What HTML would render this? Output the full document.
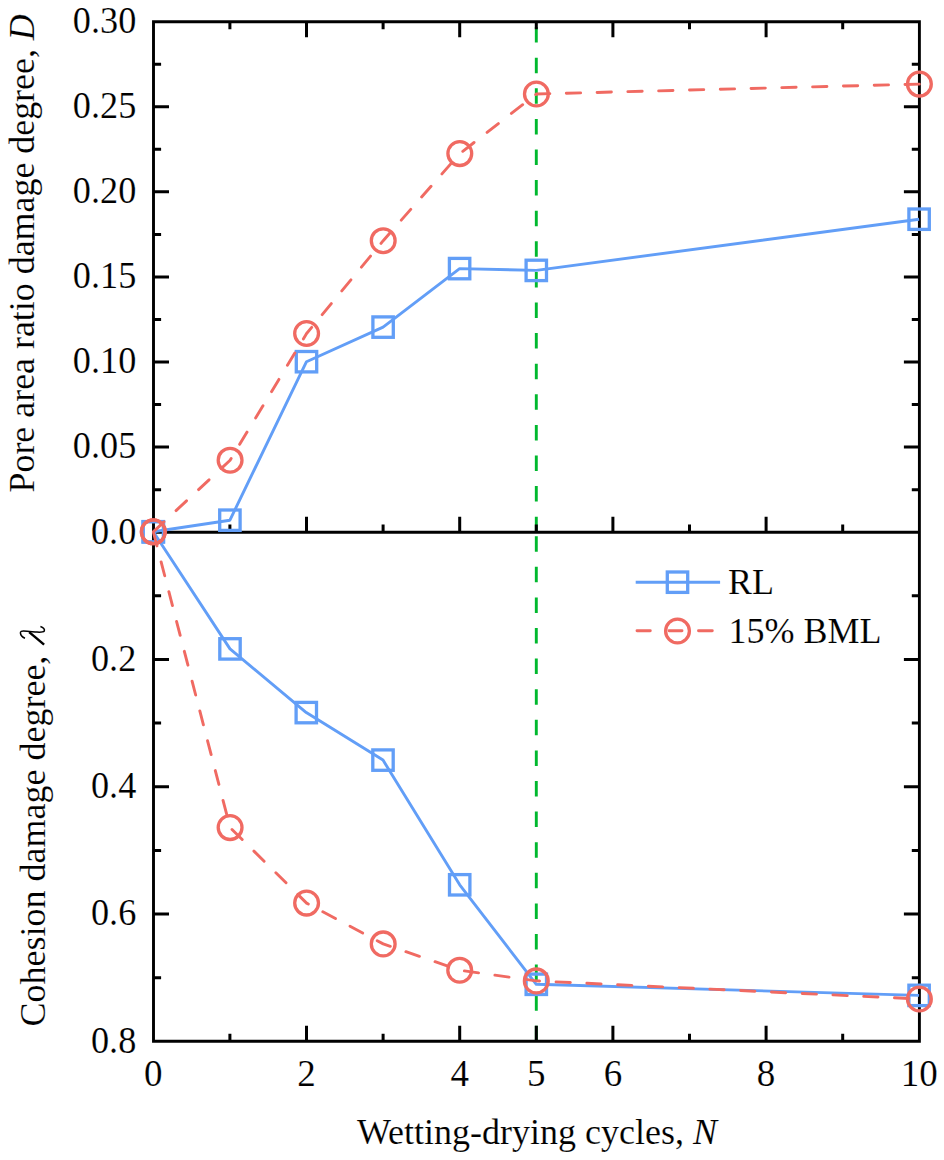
<!DOCTYPE html>
<html><head><meta charset="utf-8"><style>
html,body{margin:0;padding:0;background:#fff;width:944px;height:1160px;overflow:hidden;font-family:"Liberation Serif",serif}
svg{display:block}
</style></head><body>
<svg width="944" height="1160" viewBox="0 0 944 1160">
<rect width="944" height="1160" fill="#fff"/>
<g stroke="#00B82E" stroke-width="2.9" fill="none" stroke-dasharray="15.5 15.1">
<path d="M536.3,532.2V21.7"/>
<path d="M536.3,1041.3V532.2"/>
</g>
<path d="M153.50,489.66h7.6M919.40,489.66h-7.6M153.50,447.12h15.5M919.40,447.12h-15.5M153.50,404.58h7.6M919.40,404.58h-7.6M153.50,362.03h15.5M919.40,362.03h-15.5M153.50,319.49h7.6M919.40,319.49h-7.6M153.50,276.95h15.5M919.40,276.95h-15.5M153.50,234.41h7.6M919.40,234.41h-7.6M153.50,191.87h15.5M919.40,191.87h-15.5M153.50,149.32h7.6M919.40,149.32h-7.6M153.50,106.78h15.5M919.40,106.78h-15.5M153.50,64.24h7.6M919.40,64.24h-7.6M229.90,21.70v7.6M229.90,532.20v-7.6M306.50,21.70v15.5M306.50,532.20v-15.5M383.10,21.70v7.6M383.10,532.20v-7.6M459.70,21.70v15.5M459.70,532.20v-15.5M536.30,21.70v7.6M536.30,532.20v-7.6M612.90,21.70v15.5M612.90,532.20v-15.5M689.50,21.70v7.6M689.50,532.20v-7.6M766.10,21.70v15.5M766.10,532.20v-15.5M842.70,21.70v7.6M842.70,532.20v-7.6M153.50,595.84h7.6M919.40,595.84h-7.6M153.50,659.48h15.5M919.40,659.48h-15.5M153.50,723.11h7.6M919.40,723.11h-7.6M153.50,786.75h15.5M919.40,786.75h-15.5M153.50,850.39h7.6M919.40,850.39h-7.6M153.50,914.02h15.5M919.40,914.02h-15.5M153.50,977.66h7.6M919.40,977.66h-7.6M229.90,1041.30v-7.6M306.50,1041.30v-15.5M383.10,1041.30v-7.6M459.70,1041.30v-15.5M536.30,1041.30v-15.5M612.90,1041.30v-15.5M689.50,1041.30v-7.6M766.10,1041.30v-15.5M842.70,1041.30v-7.6" stroke="#000" stroke-width="3.0" fill="none"/>
<path d="M153.5,21.7H919.4V1041.3H153.5Z M153.5,532.2H919.4" stroke="#000" stroke-width="2.9" fill="none" stroke-linejoin="miter" stroke-linecap="square"/>
<path d="M153.3,531.8 L229.9,520.2 L306.5,361.7 L383.1,327.1 L459.6,268.6 L536.3,270.4 L919.1,219.2" stroke="#629EF7" stroke-width="2.9" fill="none" stroke-linejoin="round"/>
<g stroke="#629EF7" stroke-width="3.3" fill="none"><rect x="143.10" y="521.60" width="20.4" height="20.4"/><rect x="219.70" y="510.00" width="20.4" height="20.4"/><rect x="296.30" y="351.50" width="20.4" height="20.4"/><rect x="372.90" y="316.90" width="20.4" height="20.4"/><rect x="449.40" y="258.40" width="20.4" height="20.4"/><rect x="526.10" y="260.20" width="20.4" height="20.4"/><rect x="908.90" y="209.00" width="20.4" height="20.4"/></g>
<path d="M153.3,531.8 L230.0,648.9 L306.3,712.6 L383.0,760.1 L459.7,884.8 L536.3,984.3 L919.1,995.4" stroke="#629EF7" stroke-width="2.9" fill="none" stroke-linejoin="round"/>
<g stroke="#629EF7" stroke-width="3.3" fill="none"><rect x="143.10" y="521.60" width="20.4" height="20.4"/><rect x="219.80" y="638.70" width="20.4" height="20.4"/><rect x="296.10" y="702.40" width="20.4" height="20.4"/><rect x="372.80" y="749.90" width="20.4" height="20.4"/><rect x="449.50" y="874.60" width="20.4" height="20.4"/><rect x="526.10" y="974.10" width="20.4" height="20.4"/><rect x="908.90" y="985.20" width="20.4" height="20.4"/></g>
<path d="M153.3,531.8 L230.1,460.2 L306.6,333.5 L383.2,240.7 L459.8,153.6 L536.4,94.0 L919.4,84.1" stroke="#F06A62" stroke-width="2.9" fill="none" stroke-dasharray="14.3 16.5" stroke-dashoffset="-0.3" stroke-linecap="round" stroke-linejoin="round"/>
<g stroke="#F06A62" stroke-width="3.3" fill="none"><circle cx="153.30" cy="531.80" r="11.9"/><circle cx="230.10" cy="460.20" r="11.9"/><circle cx="306.60" cy="333.50" r="11.9"/><circle cx="383.20" cy="240.70" r="11.9"/><circle cx="459.80" cy="153.60" r="11.9"/><circle cx="536.40" cy="94.00" r="11.9"/><circle cx="919.40" cy="84.10" r="11.9"/></g>
<path d="M153.3,531.8 L230.1,827.6 L306.6,903.1 L383.2,943.9 L459.7,970.2 L536.3,980.9 L919.4,999.0" stroke="#F06A62" stroke-width="2.9" fill="none" stroke-dasharray="14.3 16.5" stroke-dashoffset="-0.3" stroke-linecap="round" stroke-linejoin="round"/>
<g stroke="#F06A62" stroke-width="3.3" fill="none"><circle cx="153.30" cy="531.80" r="11.9"/><circle cx="230.10" cy="827.60" r="11.9"/><circle cx="306.60" cy="903.10" r="11.9"/><circle cx="383.20" cy="943.90" r="11.9"/><circle cx="459.70" cy="970.20" r="11.9"/><circle cx="536.30" cy="980.90" r="11.9"/><circle cx="919.40" cy="999.00" r="11.9"/></g>
<path d="M635.7,582.2H720.1" stroke="#629EF7" stroke-width="2.9"/>
<rect x="667.3" y="572.0" width="20.4" height="20.4" stroke="#629EF7" stroke-width="3.3" fill="none"/>
<path d="M637,630.8H650.3M669,630.8H682M698.5,630.8H712.3" stroke="#F06A62" stroke-width="2.9" stroke-linecap="round"/>
<circle cx="677.5" cy="631" r="11.9" stroke="#F06A62" stroke-width="3.3" fill="none"/>
<g font-family="Liberation Serif" font-size="37" fill="#000" stroke="#fff" stroke-width="0.15">
<text x="728" y="594.3" font-size="36">RL</text>
<text x="728.6" y="643" font-size="36">15% BML</text>
<text transform="translate(136.3,543.5) scale(0.98,1.01)" text-anchor="end">0.0</text>
<text transform="translate(136.3,458.4) scale(0.98,1.01)" text-anchor="end">0.05</text>
<text transform="translate(136.3,373.3) scale(0.98,1.01)" text-anchor="end">0.10</text>
<text transform="translate(136.3,288.2) scale(0.98,1.01)" text-anchor="end">0.15</text>
<text transform="translate(136.3,203.2) scale(0.98,1.01)" text-anchor="end">0.20</text>
<text transform="translate(136.3,118.1) scale(0.98,1.01)" text-anchor="end">0.25</text>
<text transform="translate(136.3,33.0) scale(0.98,1.01)" text-anchor="end">0.30</text>
<text transform="translate(136.3,670.8) scale(0.98,1.01)" text-anchor="end">0.2</text>
<text transform="translate(136.3,798.0) scale(0.98,1.01)" text-anchor="end">0.4</text>
<text transform="translate(136.3,925.3) scale(0.98,1.01)" text-anchor="end">0.6</text>
<text transform="translate(136.3,1052.6) scale(0.98,1.01)" text-anchor="end">0.8</text>
<text x="153.3" y="1086.4" text-anchor="middle">0</text>
<text x="306.5" y="1086.4" text-anchor="middle">2</text>
<text x="459.7" y="1086.4" text-anchor="middle">4</text>
<text x="536.3" y="1086.4" text-anchor="middle">5</text>
<text x="612.9" y="1086.4" text-anchor="middle">6</text>
<text x="766.1" y="1086.4" text-anchor="middle">8</text>
<text x="919.3" y="1086.4" text-anchor="middle">10</text>
<text x="357" y="1143.8" font-size="36">Wetting-drying cycles, <tspan font-style="italic">N</tspan></text>
<text transform="translate(34.1,492.5) rotate(-90)" font-size="36" textLength="478.3" lengthAdjust="spacingAndGlyphs">Pore area ratio damage degree, <tspan font-style="italic">D</tspan></text>
<text transform="translate(45.3,1026.5) rotate(-90)" font-size="36">Cohesion damage degree,</text>
<path d="M24.98,638.27C22.5,637.3 20.6,635.3 20.41,632.9C20.3,631.3 21.8,630.9 23.5,630.95C28,631.1 33,631.8 37,632.1C40,632.3 43.2,632.3 44.3,631C45,629.6 43.5,627.3 40.41,626.41" stroke="#000" stroke-width="1.5" fill="none"/>
<path d="M29.2,632.1L44.1,644.6" stroke="#000" stroke-width="2.5" fill="none"/>
</g>
</svg>
</body></html>
